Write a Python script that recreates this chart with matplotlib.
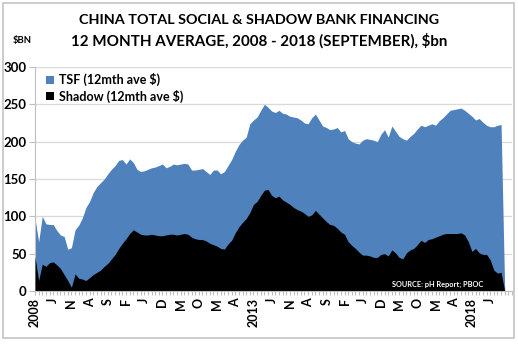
import matplotlib
matplotlib.use("Agg")
import matplotlib.pyplot as plt
from matplotlib.patches import Rectangle

# Monthly 12-month averages, Jan 2008 - Sep 2018 ($bn); Oct 2018 closes the area at zero
tsf = [97, 66, 100, 90, 89, 89, 81, 75, 73, 56,
       58, 82, 88, 98, 112, 120, 132, 140, 145, 150,
       157, 163, 168, 175, 176, 170, 177, 172, 163, 160,
       161, 163, 165, 166, 168, 170, 165, 167, 170, 169,
       170, 171, 170, 162, 162, 163, 164, 160, 156, 162,
       162, 157, 160, 168, 176, 187, 196, 202, 206, 224,
       229, 233, 242, 250, 246, 241, 239, 242, 238, 237,
       234, 233, 232, 229, 225, 224, 232, 237, 229, 221,
       219, 216, 217, 219, 213, 215, 204, 200, 198, 197,
       202, 204, 203, 202, 200, 210, 216, 206, 221, 214,
       207, 204, 202, 207, 211, 217, 222, 220, 222, 224,
       222, 228, 232, 237, 242, 243, 244, 245, 242, 238,
       234, 229, 231, 226, 222, 220, 220, 222, 223, 0]

shadow = [46, 14, 36, 33, 38, 39, 35, 30, 22, 14,
          5, 23, 17, 16, 14, 18, 22, 25, 28, 33,
          37, 43, 49, 57, 64, 70, 77, 82, 79, 76,
          75, 75, 76, 75, 74, 74, 75, 76, 76, 75,
          76, 77, 76, 72, 70, 69, 69, 67, 64, 62,
          60, 57, 56, 63, 68, 78, 86, 92, 97, 105,
          116, 120, 128, 135, 136, 128, 125, 127, 122, 119,
          116, 112, 109, 107, 104, 100, 102, 108, 103, 98,
          93, 89, 88, 84, 79, 76, 66, 61, 57, 52,
          48, 48, 47, 45, 45, 49, 50, 47, 55, 51,
          45, 43, 51, 55, 57, 62, 68, 65, 69, 70,
          72, 74, 76, 77, 77, 77, 77, 78, 75, 66,
          53, 57, 51, 49, 49, 42, 28, 24, 25, 0]

# Category axis runs Jan 2008 - Dec 2018, labelled every fifth month
n_months = 132
tick_labels = ["2008", "J", "N", "A", "S", "F", "J", "D", "M", "O", "M", "A",
               "2013", "J", "N", "A", "S", "F", "J", "D", "M", "O", "M", "A",
               "2018", "J"]
tick_step = 5
y_ticks = [0, 50, 100, 150, 200, 250, 300]

BLUE = "#4f81bd"
FONT = "Lato"

W, H = 518, 344
fig = plt.figure(figsize=(W / 100, H / 100), dpi=100)
fig.patch.set_facecolor("white")

# chart-area border
fig.add_artist(Rectangle((3 / W, 6 / H), 511 / W, 335 / H, transform=fig.transFigure,
                         fill=False, edgecolor="#c8c8c8", linewidth=1.3))

ax = fig.add_axes([35 / W, 1 - 291 / H, (512 - 35) / W, (291 - 67) / H])

months = list(range(len(tsf)))
ax.fill_between(months, tsf, 0, color=BLUE, linewidth=0, label="TSF (12mth ave $)", zorder=2)
ax.fill_between(months, shadow, 0, color="black", linewidth=0, label="Shadow (12mth ave $)", zorder=3)

ax.set_xlim(0, n_months - 1)
ax.set_ylim(0, 300)

ax.set_yticks(y_ticks)
ax.set_yticklabels([str(v) for v in y_ticks], fontfamily=FONT, fontweight="bold", fontsize=9.5)
ax.yaxis.grid(True, color="#d9d9d9", linewidth=0.9, zorder=0)
ax.set_axisbelow(True)

ax.set_xticks(list(range(0, tick_step * len(tick_labels), tick_step)))
ax.set_xticklabels(tick_labels, rotation=90, fontfamily=FONT, fontweight="bold", fontsize=9,
                   va="top", ha="center")
ax.set_xticks(list(range(n_months)), minor=True)
ax.tick_params(axis="x", which="both", length=3, color="#bfbfbf", width=0.8, pad=2)
ax.tick_params(axis="y", length=4, color="#bfbfbf", width=0.8, pad=2)

for side in ("top", "right"):
    ax.spines[side].set_visible(False)
for side in ("left", "bottom"):
    ax.spines[side].set_color("#bfbfbf")
    ax.spines[side].set_linewidth(0.8)
ax.spines["bottom"].set_zorder(4)

ax.legend(loc="upper left", bbox_to_anchor=(0.01, 1.0), frameon=False,
          prop={"family": FONT, "weight": "bold", "size": 9},
          handlelength=0.6, handleheight=0.6, handletextpad=0.4,
          labelspacing=0.25, borderaxespad=0.1)

fig.text(259 / W, 1 - 20 / H, "CHINA TOTAL SOCIAL & SHADOW BANK FINANCING",
         ha="center", va="center", fontfamily=FONT, fontweight="bold", fontsize=10.4)
fig.text(259 / W, 1 - 41 / H, "12 MONTH AVERAGE, 2008 - 2018 (SEPTEMBER), $bn",
         ha="center", va="center", fontfamily=FONT, fontweight="bold", fontsize=10.9)
fig.text(13 / W, 1 - 41 / H, "$BN", ha="left", va="center",
         fontfamily=FONT, fontweight="bold", fontsize=6.8)

fig.text(483 / W, 1 - 284 / H, "SOURCE: pH Report; PBOC", ha="right", va="center",
         color="white", fontfamily=FONT, fontweight="bold", fontsize=5.3, zorder=10)

fig.savefig("out.png", dpi=100)
